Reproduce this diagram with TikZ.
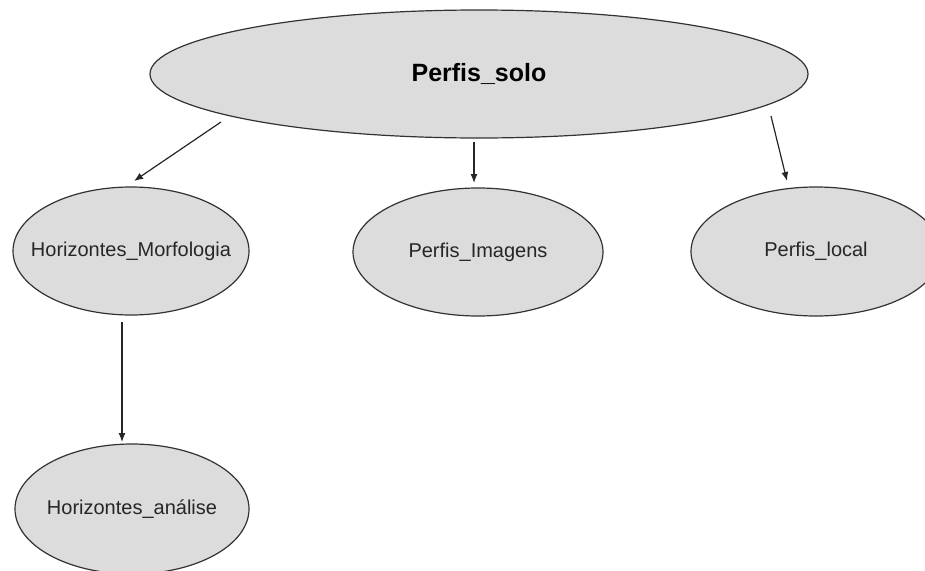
\documentclass[tikz,border=0pt]{standalone}
\usepackage{fontspec}
\setmainfont{Liberation Sans}
\usetikzlibrary{shapes.geometric,arrows.meta}
\definecolor{ellfill}{RGB}{220,220,220}
\definecolor{ellline}{RGB}{50,50,50}
\tikzset{
  ell/.style={ellipse, draw=ellline, fill=ellfill, line width=1.2pt, inner sep=0pt},
  txt/.style={inner sep=0pt, font=\fontsize{20}{24}\selectfont, text=black!85},
  bigtxt/.style={inner sep=0pt, font=\fontsize{25}{30}\selectfont\bfseries, text=black},
  arr/.style={-{Latex[length=9pt,width=7pt]}, line width=1.2pt, draw=black!85}
}
\begin{document}
\begin{tikzpicture}[x=1pt,y=-1pt]
\useasboundingbox (0,0) rectangle (925,570);
\node[ell, minimum width=658pt, minimum height=128pt] (ps) at (479,74) {};
\node[bigtxt] (pst) at (ps.center) {Perfis\_solo};
\node[ell, minimum width=236pt, minimum height=128pt] (hm) at (131,251) {};
\node[txt] (hmt) at (hm.center) {Horizontes\_Morfologia};
\node[ell, minimum width=250pt, minimum height=128pt] (pi) at (478,252) {};
\node[txt] (pit) at (pi.center) {Perfis\_Imagens};
\node[ell, minimum width=250pt, minimum height=129pt] (pl) at (816,251.5) {};
\node[txt] (plt) at (pl.center) {Perfis\_local};
\node[ell, minimum width=234pt, minimum height=130pt] (ha) at (132,509) {};
\node[txt] (hat) at (ha.center) {Horizontes\_análise};
\coordinate (a1s) at (221,122);
\coordinate (a1e) at (134,181);
\coordinate (a2s) at (474,142);
\coordinate (a2e) at (474,183);
\coordinate (a3s) at (771,116);
\coordinate (a3e) at (787,181);
\coordinate (a4s) at (122,322);
\coordinate (a4e) at (122,442);
\draw[arr] (a1s) -- (a1e);
\draw[arr] (a2s) -- (a2e);
\draw[arr] (a3s) -- (a3e);
\draw[arr] (a4s) -- (a4e);
\end{tikzpicture}
\end{document}
